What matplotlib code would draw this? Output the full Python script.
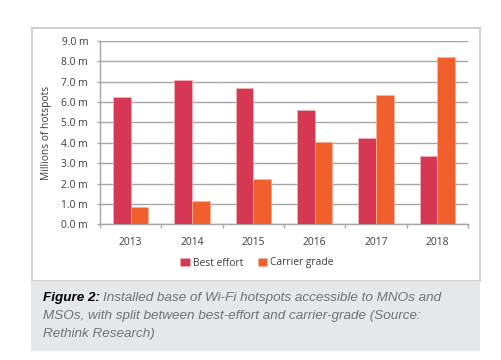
import matplotlib.pyplot as plt
import matplotlib.patches as mpatches
import numpy as np

# Data
YEARS = ['2013', '2014', '2015', '2016', '2017', '2018']
BEST_EFFORT = [6.25, 7.07, 6.67, 5.61, 4.23, 3.34]
CARRIER_GRADE = [0.84, 1.13, 2.2, 4.03, 6.33, 8.21]
Y_TICKS = [0, 1, 2, 3, 4, 5, 6, 7, 8, 9]

BEST_COLOUR = '#d63752'
CARRIER_COLOUR = '#f15f2c'
GRID_COLOUR = '#a6a6a6'
TEXT_COLOUR = '#3c3c3c'

CHART_FONT = 'Open Sans'
CAPTION_FONT = 'Liberation Sans'
FS = 7.4

W, H = 501, 360
fig = plt.figure(figsize=(W / 100, H / 100), dpi=100)

# frame around chart and grey caption box
fig.patches.append(mpatches.Rectangle((32 / W, 1 - 281 / H), 448 / W, 253 / H,
                                      transform=fig.transFigure, facecolor='white',
                                      edgecolor='#c8c8c8', linewidth=1.2, zorder=0))
fig.patches.append(mpatches.Rectangle((31 / W, 1 - 351 / H), 449 / W, 70 / H,
                                      transform=fig.transFigure, facecolor='#e6e7e9',
                                      edgecolor='none', zorder=0))

ax = fig.add_axes([100 / W, 1 - 224.3 / H, 368 / W, 183.3 / H])
ax.set_facecolor('none')
ax.set_zorder(2)

x = np.arange(len(YEARS))
bw = 0.29
ax.bar(x - bw / 2, BEST_EFFORT, bw, color=BEST_COLOUR, edgecolor='#f3b3b8',
       linewidth=0.5, label='Best effort', zorder=3)
ax.bar(x + bw / 2, CARRIER_GRADE, bw, color=CARRIER_COLOUR, edgecolor='#f8b49a',
       linewidth=0.5, label='Carrier grade', zorder=3)

ax.set_xlim(-0.5, len(YEARS) - 0.5)
ax.set_ylim(0, 9)
ax.set_yticks(Y_TICKS)
ax.set_yticklabels([f'{v:.1f} m' for v in Y_TICKS])
ax.set_xticks(x)
ax.set_xticklabels(YEARS)
ax.set_xticks(np.arange(len(YEARS) + 1) - 0.5, minor=True)

ax.grid(axis='y', color=GRID_COLOUR, linewidth=1.0, zorder=0)
for s in ['top', 'right']:
    ax.spines[s].set_visible(False)
for s in ['left', 'bottom']:
    ax.spines[s].set_color(GRID_COLOUR)
    ax.spines[s].set_linewidth(1.0)

ax.tick_params(axis='y', length=2.5, width=1.0, color=GRID_COLOUR, pad=6,
               labelsize=FS, labelcolor=TEXT_COLOUR)
ax.tick_params(axis='x', which='major', length=0, pad=9, labelsize=FS,
               labelcolor=TEXT_COLOUR)
ax.tick_params(axis='x', which='minor', length=3, width=1.0, color=GRID_COLOUR)
for lab in ax.get_xticklabels() + ax.get_yticklabels():
    lab.set_family(CHART_FONT)

ax.set_ylabel('Millions of hotspots', fontsize=FS, family=CHART_FONT, color=TEXT_COLOUR)
ax.yaxis.set_label_coords(-0.13, 0.5)

fig.legend(loc='center', bbox_to_anchor=(257 / W, 1 - 263 / H), ncol=2, frameon=False,
           prop={'family': CHART_FONT, 'size': FS}, handlelength=0.95, handleheight=0.95,
           handletextpad=0.3, columnspacing=1.4, labelcolor=TEXT_COLOUR)

# caption
cap_grey = '#707174'
cap_size = 9.7
t1 = fig.text(43 / W, 1 - 298 / H, 'Figure 2:', family=CAPTION_FONT, fontsize=cap_size,
              style='italic', weight='bold', color='black', va='center')
fig.canvas.draw()
bb = t1.get_window_extent()
fig.text(bb.x1 / W + 3 / W, 1 - 298 / H,
         'Installed base of Wi-Fi hotspots accessible to MNOs and',
         family=CAPTION_FONT, fontsize=cap_size, style='italic', color=cap_grey, va='center')
fig.text(43 / W, 1 - 316 / H, 'MSOs, with split between best-effort and carrier-grade (Source:',
         family=CAPTION_FONT, fontsize=cap_size, style='italic', color=cap_grey, va='center')
fig.text(43 / W, 1 - 334 / H, 'Rethink Research)',
         family=CAPTION_FONT, fontsize=cap_size, style='italic', color=cap_grey, va='center')

fig.savefig('out.png', dpi=100)
